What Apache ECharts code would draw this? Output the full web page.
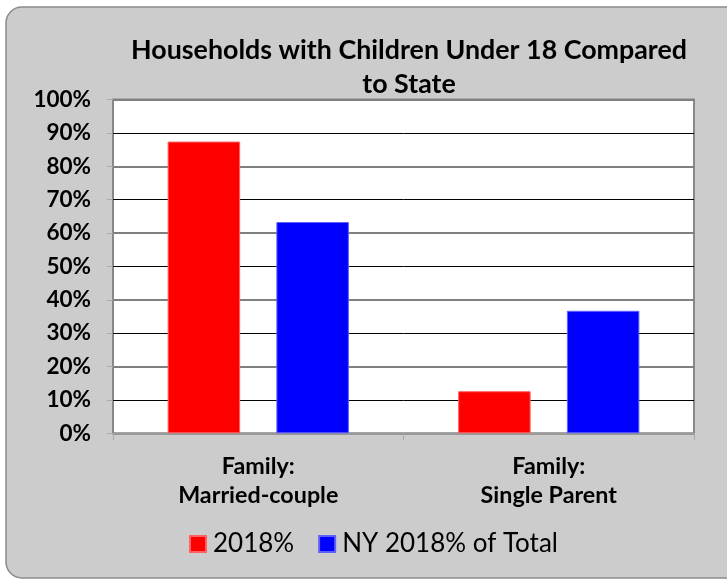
<!DOCTYPE html>
<html>
<head>
<meta charset="utf-8">
<script src="https://cdn.jsdelivr.net/npm/echarts@6/dist/echarts.min.js"></script>
<style>html,body{margin:0;padding:0;background:#fff;}#c{width:727px;height:580px;}</style>
</head>
<body>
<div id="c"></div>
<script>
var titleText = 'Households with Children Under 18 Compared\nto State';
var categories = ['Family:\nMarried-couple', 'Family:\nSingle Parent'];
var seriesNames = ['2018%', 'NY 2018% of Total'];
var values2018 = [87.4, 12.6];
var valuesNY = [63.3, 36.7];
var yTicks = [0, 10, 20, 30, 40, 50, 60, 70, 80, 90, 100];

var FONT = 'Lato';
var chart = echarts.init(document.getElementById('c'));
chart.setOption({
  backgroundColor: '#ffffff',
  animation: false,
  graphic: [{
    type: 'rect', z: -10, silent: true,
    shape: {x: 6, y: 7, width: 740, height: 571, r: 16},
    style: {fill: '#cccccc', stroke: '#8a8a8a', lineWidth: 1.5}
  }],
  title: {
    text: titleText, left: 404, top: 28, textAlign: 'center',
    textStyle: {fontFamily: FONT, fontWeight: 'bold', fontSize: 26.8, lineHeight: 34, color: '#000'}
  },
  legend: {
    left: 189, top: 531, padding: 0, itemWidth: 16, itemHeight: 16, itemGap: 24, icon: 'rect',
    textStyle: {fontFamily: FONT, fontSize: 26, color: '#000', padding: [0, 0, 0, 2]},
    data: seriesNames
  },
  grid: {left: 113, right: 33, top: 99.5, bottom: 146.7, show: true, backgroundColor: '#ffffff', borderColor: '#888888', borderWidth: 2, containLabel: false},
  xAxis: {
    type: 'category', data: categories,
    axisLine: {show: true, lineStyle: {color: '#999999', width: 2}},
    axisTick: {show: true, length: 7, lineStyle: {color: '#aaaaaa', width: 1}},
    axisLabel: {fontFamily: FONT, fontWeight: 'bold', fontSize: 23.3, lineHeight: 29, color: '#000', margin: 19}
  },
  yAxis: [{
    type: 'value', min: yTicks[0], max: yTicks[yTicks.length - 1], interval: 10,
    axisLine: {show: false},
    axisTick: {show: true, length: 6, lineStyle: {color: '#aaaaaa'}},
    axisLabel: {fontFamily: FONT, fontWeight: 'bold', fontSize: 22.5, color: '#000', margin: 22, formatter: '{value}%'},
    splitLine: {show: true, lineStyle: {color: ['#808080', '#000000'], width: 1}}
  }, {
    type: 'value', min: 0, max: 100, interval: 20, position: 'left',
    axisLine: {show: false}, axisTick: {show: false}, axisLabel: {show: false},
    splitLine: {show: true, lineStyle: {color: '#808080', width: 2}}
  }],
  series: [{
    name: seriesNames[0], type: 'bar', data: values2018, barWidth: 72.5, barGap: '50%',
    itemStyle: {color: '#ff0000', borderColor: '#ff6060', borderWidth: 1}
  }, {
    name: seriesNames[1], type: 'bar', data: valuesNY, barWidth: 72.5, barGap: '50%',
    itemStyle: {color: '#0000ff', borderColor: '#6060ff', borderWidth: 1}
  }]
});
</script>
</body>
</html>
